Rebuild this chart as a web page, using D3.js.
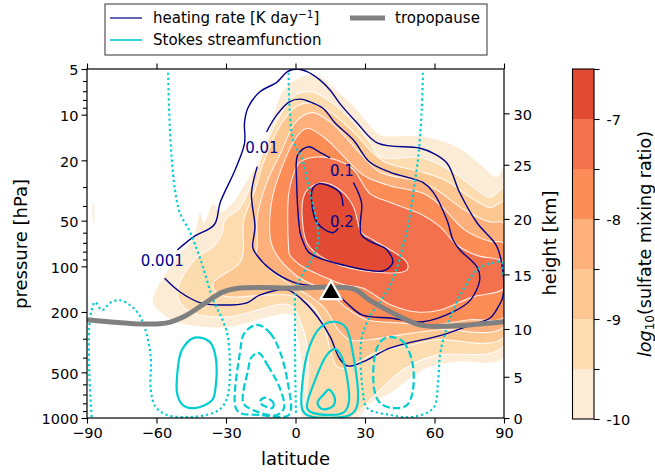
<!DOCTYPE html>
<html>
<head>
<meta charset="utf-8">
<script src="https://cdn.jsdelivr.net/npm/d3@7"></script>
<style>
body { margin: 0; background: #fff; }
text { font-family: "DejaVu Sans", sans-serif; fill: #000; }
</style>
</head>
<body>
<div id="chart"></div>
<script>
// every contour is a list of [latitude, pressure hPa]
const latTicks = [-90, -60, -30, 0, 30, 60, 90];
const pressureTicks = [5, 10, 20, 50, 100, 200, 500, 1000];
const pressureMinor = [6, 7, 8, 9, 30, 40, 60, 70, 80, 90, 300, 400, 600, 700, 800, 900];
const heightKm = [0, 5, 10, 15, 20, 25, 30];
const heightHpa = [1000, 535, 259, 113, 48.7, 21.4, 9.8];

const levels = [-10, -9.5, -9, -8.5, -8, -7.5, -7, -6.5];
const levelColors = ["#fcecd6", "#fddcb0", "#fdc791", "#fdb07c", "#fd8d57", "#f3714d", "#e24a33"];
const colorbarLabels = [-10, -9, -8, -7];

const sulfateBlob = [[-87.3, 38], [-87, 38], [-86.9, 45], [-87, 52], [-87.3, 52]];
const sulfate10 = [[-61.5,174],[-58.5,129],[-51,87],[-44,65],[-42.5,53],[-41,44],[-39.5,52],[-35.5,39],[-32.5,44],[-27,38],[-22,29],[-16.5,21],[-11,12.6],[-8,8.6],[-4.5,6.7],[2,5.7],[9.5,5.5],[16,6.6],[21.5,7.8],[26.5,9.3],[32,11.7],[36.5,13.6],[55,14],[69.5,16.3],[81,22.2],[87,25.8],[90,22.5],[90,395],[69.5,425],[58,460],[49.5,545],[41,685],[32,800],[26.5,1000],[3,1000],[3,760],[3,480],[1,290],[-1.5,210],[-19.5,232],[-29.5,252],[-50,236],[-55.5,215]];
const sulfate95 = [[-35.5,74.5],[-31.5,59.5],[-30.5,49.5],[-24,41],[-17.5,25],[-12,14.7],[-6.5,10],[0,7.4],[7.5,7.1],[15,8.2],[25,11.2],[32,15.2],[36.5,19],[55,19.3],[68,24],[75.5,29],[84,35],[90,30.5],[90,334],[61,385],[49.5,448],[41,561],[32,762],[23.5,1000],[6.5,1000],[5,890],[5.5,398],[3,250],[-2.5,180],[-21,203],[-29.5,215],[-44,203],[-50.5,166],[-50,129],[-42.5,87]];
const sulfate9 = [[-22.5,78],[-22.5,51],[-17.5,31.5],[-14,21],[-6.5,11.7],[0.5,8.8],[7.5,8.4],[15,9.6],[25,13],[32,17],[38.5,20.5],[55,24],[64.5,27],[75.5,35],[84,41],[90,37.7],[90,293],[61,305],[48,334],[35,367],[26.5,433],[20.5,470],[18,461],[15,356],[12,236],[6,174],[-2.5,155],[-14,155],[-28.5,159],[-34,150],[-35.5,129],[-24,95]];
const sulfate85 = [[-16.5,74],[-16.5,47],[-12,27],[-6.5,18],[0.5,11],[7.5,9.7],[15,11.2],[21.5,14],[28.5,18.4],[36.5,24],[55,28],[62.5,32.5],[73,42.5],[84,51],[90,52],[90,250],[62.5,262],[45,283],[32,305],[23.5,305],[18.5,262],[12.5,188],[6,157],[-2.5,131],[-12.5,100],[-17,82]];
const sulfate8 = [[-10,74],[-10.5,39],[-5.5,21.5],[0.5,14],[5,12.3],[12,14],[18,17],[25,22],[31,26],[41,29.5],[55,33],[62.5,39.5],[73,57.5],[84,68.5],[90,70.5],[90,215],[75.5,225],[58,244],[45,236],[31,225],[22,188],[17,161],[10.5,139],[0,114]];
const sulfate75 = [[-3,74],[-3,34],[-1,25],[2,20.5],[9.5,19],[18,20],[25,23],[32,33],[41,38],[55,46],[62.5,55],[69.5,72],[78.5,85],[90,94],[90,139],[76.5,159],[62.5,194],[52.5,200],[41,179],[29,139],[21.5,133],[10.5,114],[2,98],[-2.5,84]];
const sulfate7 = [[3,38],[5,31.5],[12,28],[20.5,32.5],[25,40.5],[28.5,60],[33.5,67],[48,94],[48,106],[33.5,109],[15,93],[6,74.5],[4,64]];
const sulfateBands = [sulfate10, sulfate95, sulfate9, sulfate85, sulfate8, sulfate75, sulfate7];

const heat001 = [[-56.5,120],[-50,147],[-41,174],[-32.5,180],[-21,174],[-15.5,155],[-3.5,143],[3,167],[9.5,215],[15,292],[19,405],[22.5,454],[29,427],[41,345],[63.5,283],[75.5,244],[84,219],[87.5,185],[89.5,159],[89.5,106],[87,74.5],[85,67],[78.5,52],[71,33],[65.5,21],[59.5,18],[53.5,16.6],[35.5,15.4],[26.5,11.3],[19,8.4],[15,6.9],[10.5,5.9],[5,5.2],[0.5,5],[-3.5,5.2],[-8,6.1],[-15.5,7.1],[-20.5,9],[-22,11.2],[-22,15.4],[-26,23],[-32.5,38],[-35,53],[-44,64],[-51,78]];
const heat01 = [[-12.5,13],[-8,10],[-2.5,8.2],[2,7.9],[6,8.2],[12,9.1],[17,11.3],[25,14.7],[32,20.5],[41,24],[55,28],[59.5,32.5],[65.5,50],[68,67],[71,78],[78.5,102],[79.5,123],[75.5,167],[68,200],[55,232],[41,219],[29,210],[22,174],[16,143],[10.5,137],[-1,127],[-11,104],[-17.5,81],[-18.5,74.5],[-17.5,55],[-19,33],[-16.5,22]];
const heat1 = [[15,19.3],[10.5,17.7],[5.5,16.3],[1,18.4],[0.5,28],[2,60],[3,67],[6,81.5],[20.5,98],[38,107],[42,94],[39.5,78],[38,75],[28.5,62],[28.5,38],[25,28]];
const heat2 = [[20.5,40],[19,32.5],[10.5,28.5],[7.5,30.5],[7,38],[9.5,52],[16,60],[18.5,56]];
const heatLines = [heat001, heat01, heat1, heat2];
const heatLabels = [["0.001", -57.5, 91], ["0.01", -14.5, 16.5], ["0.1", 20, 23.5], ["0.2", 20, 51]];

const stokesZeroWest = [[-55,5.3],[-54.5,9.8],[-53.5,19],[-52,31.5],[-50,44],[-45.5,59.5],[-42.5,78],[-40,100],[-35.5,167],[-31.5,225],[-29,305],[-29,685],[-31.5,840],[-35.5,925],[-45.5,985],[-55.5,955],[-60.5,840],[-62.5,650],[-62.5,395],[-65,255],[-68,203],[-71.5,180],[-76,167],[-80,174],[-83.5,195],[-86.5,172],[-88,195],[-89,250],[-89,505],[-88,985]];
const stokesZeroMid = [[-3,5.3],[-2.5,9.3],[-1,14.7],[3,20],[6,31.5],[9.5,55],[9.5,72],[6,95],[0.5,137],[-0.2,236],[0.2,955]];
const stokesZeroEast = [[55,5.3],[54.5,9.3],[53,19],[51.5,28],[48,60],[47,67],[44,100],[38,159],[32,215],[28.5,305],[29,650],[31,860],[41,955],[50.5,985],[59.5,860],[61.5,590],[62.5,375],[66.5,225],[74,129],[79.5,102],[85,95],[89,94],[89.5,118]];
const stokesZero = [stokesZeroWest, stokesZeroMid, stokesZeroEast];

const stokesPos = [
    [[-43.5,295],[-37,315],[-34.5,395],[-34.5,625],[-36,762],[-43.5,860],[-48.5,825],[-51,700],[-51,505],[-49,355]],
    [[16,232],[21.5,250],[24.5,355],[26.5,840],[23.5,955],[6,970],[3,885],[3,585],[6,340],[10.5,255]],
    [[17,350],[20,398],[23,795],[20.5,925],[7.5,925],[5,860],[8.5,561],[13.5,385]],
    [[14.5,650],[17,745],[16,840],[11.5,873],[9.5,795],[12,705]]
];
const stokesNeg = [
    [[-16.5,243],[-11,275],[-6.5,372],[-3,625],[-2,885],[-3.5,970],[-15.5,955],[-24,925],[-26,840],[-24,372],[-22,275]],
    [[-16,372],[-12,450],[-6.5,650],[-5,860],[-8,955],[-18.5,885],[-22.5,795],[-20.5,485],[-19,398]],
    [[-13,735],[-9.5,795],[-10,860],[-14,825],[-15.5,785]],
    [[41.5,293],[46.5,315],[50.5,433],[50.5,680],[48,825],[42,860],[36.5,795],[34,650],[34.5,372],[37.5,305]]
];

const tropopause = [[-90,225],[-66,240],[-55.5,236],[-47,210],[-40,179],[-31.5,148],[-24,139],[-1,139],[25,141],[32,167],[42,203],[54,244],[65.5,248],[90,232]];
const marker = [15.3, 150];

const navy = "#00008b";
const turquoise = "#00ced1";
const grey = "#808080";

const svg = d3.select("#chart").append("svg")
    .attr("width", 655)
    .attr("height", 473)
    .style("display", "block");

const x = d3.scaleLinear().domain([-90, 90]).range([87, 504]);
const y = d3.scaleLog().domain([1000, 5]).range([418, 69]);
const barY = d3.scaleLinear().domain([-10, -6.5]).range([419, 69]);

svg.append("clipPath").attr("id", "plotArea")
    .append("rect")
    .attr("x", 87).attr("y", 69)
    .attr("width", 417).attr("height", 349);

const openLine = d3.line().x(d => x(d[0])).y(d => y(d[1])).curve(d3.curveCatmullRom);
const closedLine = d3.line().x(d => x(d[0])).y(d => y(d[1])).curve(d3.curveCatmullRomClosed);

const plot = svg.append("g").attr("clip-path", "url(#plotArea)");

// filled bands, outermost first
plot.append("path")
    .attr("d", closedLine(sulfateBlob))
    .attr("fill", levelColors[0]);

plot.selectAll(".band")
    .data(sulfateBands)
    .enter().append("path")
    .attr("class", "band")
    .attr("d", d => closedLine(d))
    .attr("fill", (d, i) => levelColors[i])
    .attr("stroke", (d, i) => i === 0 ? "none" : "#fff")
    .attr("stroke-opacity", 0.85)
    .attr("stroke-width", 1.1);

plot.selectAll(".heat")
    .data(heatLines)
    .enter().append("path")
    .attr("class", "heat")
    .attr("d", d => openLine(d))
    .attr("fill", "none")
    .attr("stroke", navy)
    .attr("stroke-width", 1.4);

plot.selectAll(".stokesZero")
    .data(stokesZero)
    .enter().append("path")
    .attr("class", "stokesZero")
    .attr("d", d => openLine(d))
    .attr("fill", "none")
    .attr("stroke", turquoise)
    .attr("stroke-width", 2.2)
    .attr("stroke-dasharray", "2.2 2.9");

plot.selectAll(".stokesPos")
    .data(stokesPos)
    .enter().append("path")
    .attr("class", "stokesPos")
    .attr("d", d => closedLine(d))
    .attr("fill", "none")
    .attr("stroke", turquoise)
    .attr("stroke-width", 2.2);

plot.selectAll(".stokesNeg")
    .data(stokesNeg)
    .enter().append("path")
    .attr("class", "stokesNeg")
    .attr("d", d => closedLine(d))
    .attr("fill", "none")
    .attr("stroke", turquoise)
    .attr("stroke-width", 2.2)
    .attr("stroke-dasharray", "7.4 3.2");

plot.append("path")
    .attr("d", openLine(tropopause))
    .attr("fill", "none")
    .attr("stroke", grey)
    .attr("stroke-width", 5);

svg.selectAll(".heatLabel")
    .data(heatLabels)
    .enter().append("text")
    .attr("class", "heatLabel")
    .attr("x", d => x(d[1]))
    .attr("y", d => y(d[2]))
    .attr("dy", "0.36em")
    .attr("text-anchor", "middle")
    .style("fill", navy)
    .style("font-size", "15px")
    .text(d => d[0]);

svg.append("path")
    .attr("d", d3.symbol().type(d3.symbolTriangle).size(190)())
    .attr("transform", `translate(${x(marker[0])},${y(marker[1])})`)
    .attr("fill", "#000")
    .attr("stroke", "#fff")
    .attr("stroke-width", 2.2)
    .attr("stroke-linejoin", "miter");

// frame and axes
svg.append("rect")
    .attr("x", 87).attr("y", 69)
    .attr("width", 417).attr("height", 349)
    .attr("fill", "none")
    .attr("stroke", "#000")
    .attr("stroke-width", 1.2);

function styleAxis(g) {
    g.select(".domain").remove();
    g.selectAll(".tick line").attr("stroke", "#000").attr("stroke-width", 1.1);
    g.selectAll(".tick text").style("font-size", "14.5px").style("font-family", '"DejaVu Sans", sans-serif');
}

// side axes sit about a pixel lower than d3's default centring
function nudgeLabels(g) {
    g.selectAll(".tick text").attr("dy", "0.4em");
}

const latFormat = d => d < 0 ? "\u2212" + Math.abs(d) : String(d);

svg.append("g").attr("transform", "translate(0,418)")
    .call(d3.axisBottom(x).tickValues(latTicks).tickFormat(latFormat).tickSize(5.5).tickPadding(4.5))
    .call(styleAxis);
svg.append("g").attr("transform", "translate(0,69)")
    .call(d3.axisTop(x).tickValues(latTicks).tickFormat("").tickSize(5.5))
    .call(styleAxis);
svg.append("g").attr("transform", "translate(87,0)")
    .call(d3.axisLeft(y).tickValues(pressureTicks).tickFormat(d => d).tickSize(5.5).tickPadding(3))
    .call(styleAxis)
    .call(nudgeLabels);
svg.append("g").attr("transform", "translate(87,0)")
    .call(d3.axisLeft(y).tickValues(pressureMinor).tickFormat("").tickSize(4))
    .call(styleAxis);
svg.append("g").attr("transform", "translate(504,0)")
    .call(d3.axisRight(y).tickValues(heightHpa).tickFormat((d, i) => heightKm[i]).tickSize(5.5).tickPadding(4))
    .call(styleAxis)
    .call(nudgeLabels);

svg.append("text")
    .attr("x", 295.5).attr("y", 465)
    .attr("text-anchor", "middle")
    .style("font-size", "18px")
    .text("latitude");
svg.append("text")
    .attr("transform", "translate(27,244) rotate(-90)")
    .attr("text-anchor", "middle")
    .style("font-size", "18px")
    .text("pressure [hPa]");
svg.append("text")
    .attr("transform", "translate(556,243) rotate(-90)")
    .attr("text-anchor", "middle")
    .style("font-size", "18px")
    .text("height [km]");

// colorbar
const barX = 572.5;
const barW = 21.5;
svg.selectAll(".barCell")
    .data(levelColors)
    .enter().append("rect")
    .attr("class", "barCell")
    .attr("x", barX)
    .attr("y", (d, i) => barY(levels[i + 1]))
    .attr("width", barW)
    .attr("height", (d, i) => barY(levels[i]) - barY(levels[i + 1]))
    .attr("fill", d => d);
svg.append("rect")
    .attr("x", barX).attr("y", barY(-6.5))
    .attr("width", barW).attr("height", barY(-10) - barY(-6.5))
    .attr("fill", "none")
    .attr("stroke", "#000")
    .attr("stroke-width", 1.1);
svg.append("g").attr("transform", `translate(${barX + barW},0)`)
    .call(d3.axisRight(barY).tickValues(levels).tickFormat(d => colorbarLabels.includes(d) ? String(d) : "").tickSize(5.5).tickPadding(7))
    .call(styleAxis)
    .call(nudgeLabels);

const barTitle = svg.append("text")
    .attr("transform", "translate(650.5,244) rotate(-90)")
    .attr("text-anchor", "middle")
    .style("font-size", "17.5px");
barTitle.append("tspan").style("font-style", "italic").text("log");
barTitle.append("tspan").attr("dy", 3).style("font-size", "12px").text("10");
barTitle.append("tspan").attr("dy", -3).text("(sulfate mixing ratio)");

// legend
const legend = svg.append("g");
legend.append("rect")
    .attr("x", 105).attr("y", 4)
    .attr("width", 382).attr("height", 51)
    .attr("fill", "#fff")
    .attr("stroke", "#444")
    .attr("stroke-width", 1.1);

const legendLines = [
    { x1: 110, x2: 142, yy: 18, color: navy, w: 1.2 },
    { x1: 110, x2: 142, yy: 40, color: turquoise, w: 1.6 },
    { x1: 350, x2: 385, yy: 18, color: grey, w: 5 }
];
legend.selectAll("line")
    .data(legendLines)
    .enter().append("line")
    .attr("x1", d => d.x1).attr("x2", d => d.x2)
    .attr("y1", d => d.yy).attr("y2", d => d.yy)
    .attr("stroke", d => d.color)
    .attr("stroke-width", d => d.w);

const heatText = legend.append("text").attr("x", 153).attr("y", 23).style("font-size", "15px");
heatText.append("tspan").text("heating rate [K day");
heatText.append("tspan").attr("dy", -5).style("font-size", "10.5px").text("\u22121");
heatText.append("tspan").attr("dy", 5).text("]");
legend.append("text").attr("x", 153).attr("y", 45).style("font-size", "15px").text("Stokes streamfunction");
legend.append("text").attr("x", 395).attr("y", 23).style("font-size", "15px").text("tropopause");
</script>
</body>
</html>
